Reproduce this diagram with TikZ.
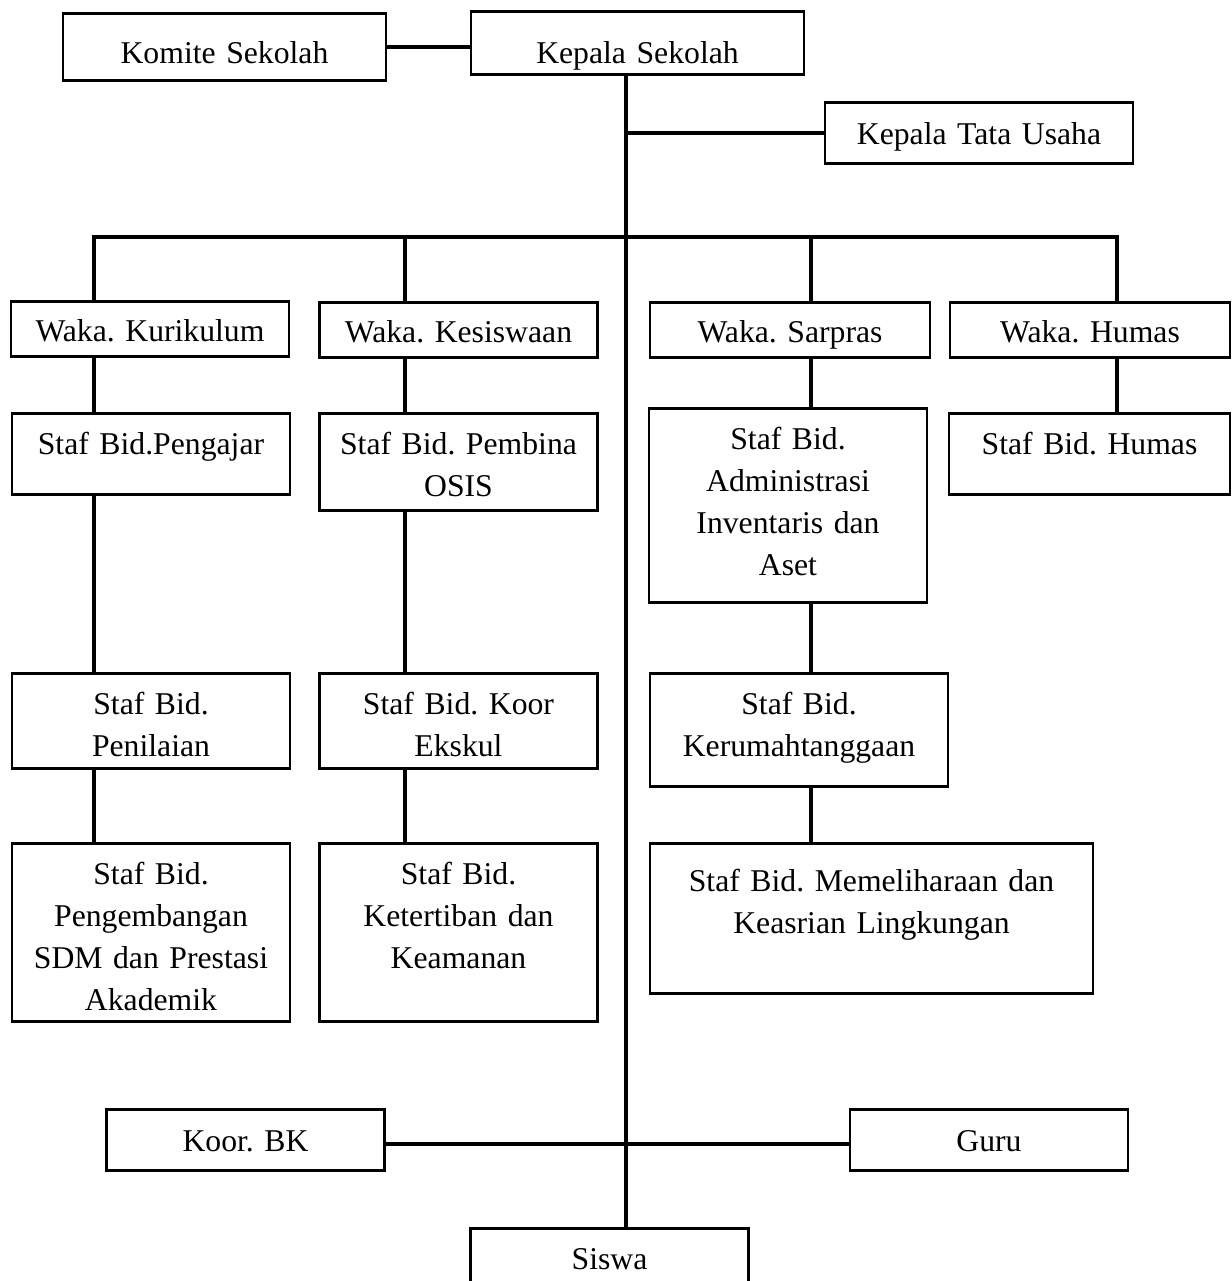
\documentclass[tikz,border=0pt]{standalone}
\usepackage{fontspec}
\setmainfont{Liberation Serif}

\tikzset{
    orgbox/.style={draw, line width=1.3pt, anchor=north, inner sep=0pt, align=center,
        text width=139pt, text height=20.5pt, text depth=#1,
        font=\fontsize{15.85}{21}\selectfont\frenchspacing},
    link/.style={line width=1.8pt},
}

\begin{document}
\begin{tikzpicture}[x=0.5pt,y=-0.5pt]
    \useasboundingbox (0,0) rectangle (1232,1281);
    % Column lines
    \coordinate (spine) at (626,0);
    \coordinate (colA) at (94,0);
    \coordinate (colB) at (405,0);
    \coordinate (colC) at (811,0);
    \coordinate (colD) at (1117,0);
    \coordinate (bar) at (0,237);
    \coordinate (cross) at (626,1144);
    % Top
    \node[orgbox=8.5pt, text width=161.5pt, text height=25pt] (komite) at (224.5,12) {Komite Sekolah};
    \node[orgbox=5.5pt, text width=166.5pt, text height=26pt] (kepala) at (637.5,10) {Kepala Sekolah};
    \node[orgbox=9.5pt, text width=154pt, text height=21pt] (tata) at (979,101) {Kepala Tata Usaha};
    % Waka
    \node[orgbox=7.5pt, text height=20pt] (wkur) at (150,300) {Waka. Kurikulum};
    \node[orgbox=7.5pt, text height=20pt] (wkes) at (458.5,301) {Waka. Kesiswaan};
    \node[orgbox=7.5pt, text width=140pt, text height=20pt] (wsar) at (790,301) {Waka. Sarpras};
    \node[orgbox=7.5pt, text width=140pt, text height=20pt] (whum) at (1090,301) {Waka. Humas};
    % Staf
    \node[orgbox=20pt] (spengajar) at (151,412) {Staf Bid.Pengajar};
    \node[orgbox=28pt] (spembina) at (458.5,412) {Staf Bid. Pembina\\OSIS};
    \node[orgbox=76.5pt] (sadmin) at (788,407) {Staf Bid.\\Administrasi\\Inventaris dan\\Aset};
    \node[orgbox=20pt, text width=140.5pt] (shumas) at (1089.5,412) {Staf Bid. Humas};
    \node[orgbox=27pt] (snilai) at (151,672) {Staf Bid.\\Penilaian};
    \node[orgbox=27pt] (sekskul) at (458.5,672) {Staf Bid. Koor\\Ekskul};
    \node[orgbox=36pt, text width=149pt] (srumah) at (799,672) {Staf Bid.\\Kerumahtanggaan};
    \node[orgbox=68.5pt] (ssdm) at (151,842) {Staf Bid.\\Pengembangan\\SDM dan Prestasi\\Akademik};
    \node[orgbox=68.5pt] (stertib) at (458.5,842) {Staf Bid.\\Ketertiban dan\\Keamanan};
    \node[orgbox=51pt, text width=221.5pt, text height=24pt] (spelihara) at (871.5,842) {Staf Bid. Memeliharaan dan\\Keasrian Lingkungan};
    % Bottom
    \node[orgbox=9.5pt, text height=21pt] (koorbk) at (245.5,1108) {Koor. BK};
    \node[orgbox=9.5pt, text height=21pt] (guru) at (989,1108) {Guru};
    \node[orgbox=19.5pt] (siswa) at (609.5,1227) {Siswa};
    % Lines
    \draw[link] (komite.east) -- (komite.east -| kepala.west);
    \draw[link] (kepala.south -| spine) -- (siswa.north -| spine);
    \draw[link] (tata.west -| spine) -- (tata.west);
    \draw[link] (wkur.north -| colA) -- (bar -| colA) -- (bar -| colD) -- (whum.north -| colD);
    \draw[link] (bar -| colB) -- (wkes.north -| colB);
    \draw[link] (bar -| colC) -- (wsar.north -| colC);
    \foreach \col/\up/\down in {colA/wkur/spengajar, colA/spengajar/snilai, colA/snilai/ssdm,
        colB/wkes/spembina, colB/spembina/sekskul, colB/sekskul/stertib,
        colC/wsar/sadmin, colC/sadmin/srumah, colC/srumah/spelihara, colD/whum/shumas}
        \draw[link] (\up.south -| \col) -- (\down.north -| \col);
    \draw[link] (koorbk.east |- cross) -- (guru.west |- cross);
\end{tikzpicture}
\end{document}
